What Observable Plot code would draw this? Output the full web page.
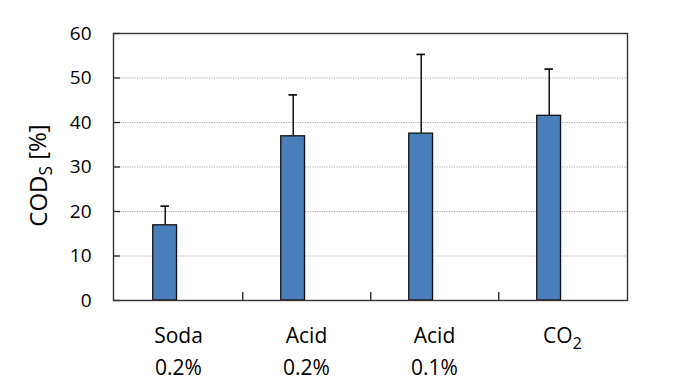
<!DOCTYPE html>
<html>
<head>
<meta charset="utf-8">
<script src="https://cdn.jsdelivr.net/npm/d3@7"></script>
<script src="https://cdn.jsdelivr.net/npm/@observablehq/plot@0.6"></script>
<style>
  html, body { margin: 0; padding: 0; background: #fff; }
  #chart svg { display: block; }
</style>
</head>
<body>
<div id="chart"></div>
<script>
// Data
const categories = ["Soda\n0.2%", "Acid\n0.2%", "Acid\n0.1%", "CO2"];
const values = [16.9, 36.9, 37.5, 41.5];
const upperErrors = [4.3, 9.3, 17.8, 10.5];
const yTicks = [0, 10, 20, 30, 40, 50, 60];
const gridTicks = [10, 20, 30, 40, 50];
const yLabel = ["COD", "S", " [%]"];

const data = categories.map((c, i) => ({
  cat: c,
  value: values[i],
  upper: values[i] + upperErrors[i]
}));

const W = 683, H = 387;
const mL = 113, mR = 56, mT = 33, mB = 87;
const innerW = W - mL - mR;
const innerH = H - mT - mB;
const band = innerW / categories.length;

const chart = Plot.plot({
  width: W,
  height: H,
  marginLeft: mL,
  marginRight: mR,
  marginTop: mT,
  marginBottom: mB,
  style: {fontFamily: "'Open Sans', sans-serif", color: "#000", background: "#fff"},
  x: {domain: categories, padding: 0, axis: null},
  y: {domain: [0, 60], axis: null},
  marks: [
    Plot.gridY(gridTicks, {stroke: "#a8a8a8", strokeOpacity: 1, strokeDasharray: "1.2,1.2", strokeWidth: 1}),
    Plot.ruleX(data, {x: "cat", y1: "value", y2: "upper", dx: -13.3, stroke: "#000", strokeWidth: 1.4}),
    Plot.tickY(data, {x: "cat", y: "upper", insetLeft: band / 2 - 17.8, insetRight: band / 2 + 8.8, stroke: "#000", strokeWidth: 1.6}),
    Plot.barY(data, {x: "cat", y: "value", fill: "#4a7ebb", stroke: "#111", strokeWidth: 1.3,
      insetLeft: band / 2 - 25.5, insetRight: band / 2 + 1.2}),
    Plot.tickY(yTicks, {y: d => d, insetRight: innerW - 7, stroke: "#222", strokeWidth: 1.3}),
    Plot.tickX(categories.slice(0, 3), {x: d => d, dx: band / 2, insetTop: innerH - 8, stroke: "#222", strokeWidth: 1.3}),
    Plot.frame({stroke: "#333", strokeWidth: 1.4}),
    Plot.axisY({ticks: yTicks, tickSize: 0, tickPadding: 22, fontSize: 19, label: null}),
    Plot.axisX({tickSize: 0, tickPadding: 20, fontSize: 21, lineHeight: 1.52, label: null})
  ]
});

// Subscripts for CO2
d3.select(chart).selectAll("text").filter(function () { return this.textContent === "CO2"; })
  .each(function () {
    const t = d3.select(this);
    t.text("CO");
    t.append("tspan").attr("dy", "0.33em").attr("font-size", "0.78em").text("2");
  });

// Y axis title with subscript S
const lbl = d3.select(chart).append("text")
  .attr("transform", `translate(46.5,${mT + innerH / 2 + 9}) rotate(-90)`)
  .attr("text-anchor", "middle")
  .attr("font-family", "'Open Sans', sans-serif")
  .attr("font-size", 24)
  .attr("fill", "#000");
lbl.append("tspan").text(yLabel[0]);
lbl.append("tspan").attr("dy", "0.3em").attr("font-size", "0.72em").text(yLabel[1]);
lbl.append("tspan").attr("dy", "-0.22em").text(yLabel[2]);

document.getElementById("chart").appendChild(chart);
</script>
</body>
</html>
